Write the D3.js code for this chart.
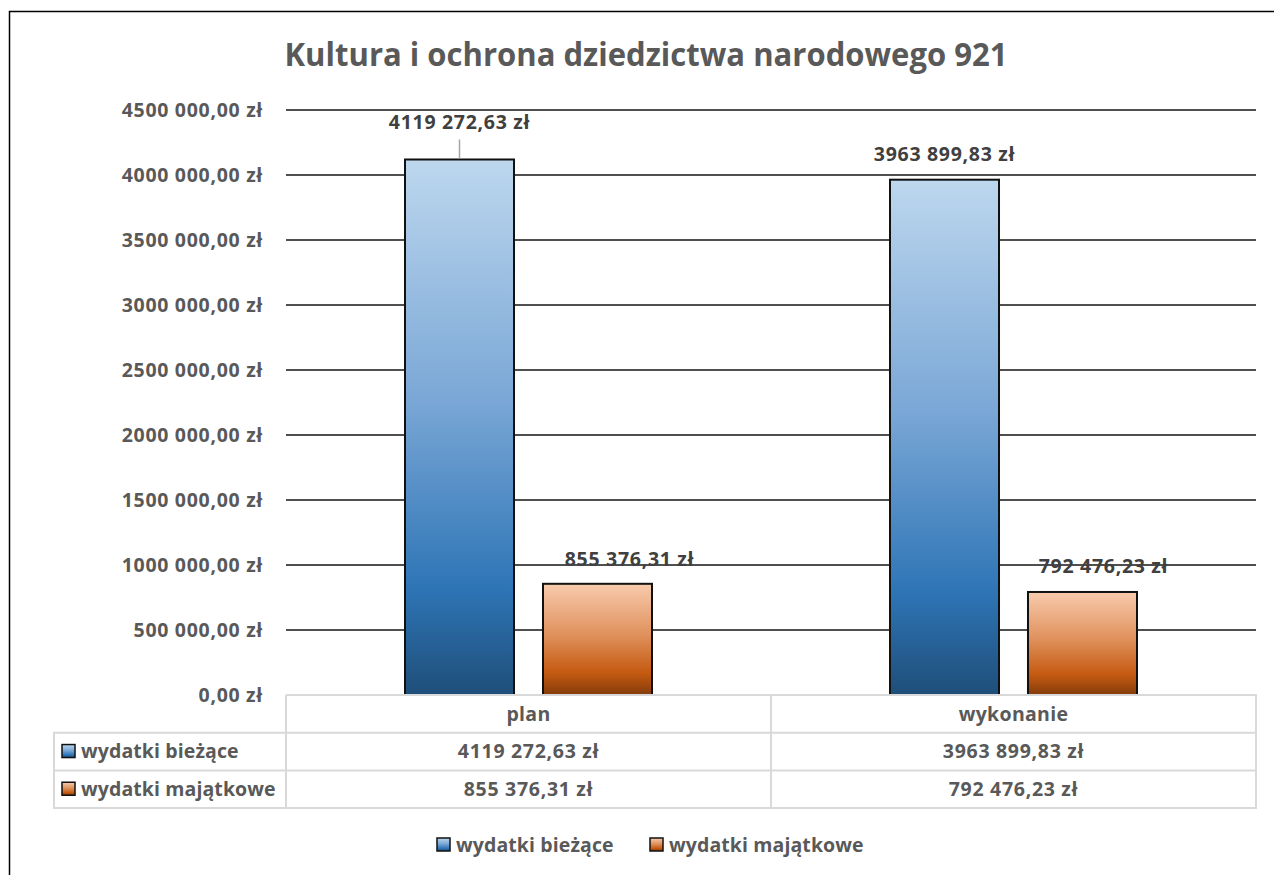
<!DOCTYPE html>
<html>
<head>
<meta charset="utf-8">
<script src="https://cdn.jsdelivr.net/npm/d3@7"></script>
<style>
  html, body { margin: 0; padding: 0; background: #fff; }
  svg { display: block; font-family: "Open Sans", "Noto Sans", sans-serif; }
</style>
</head>
<body>
<svg id="chart" width="1274" height="875"></svg>
<script>
// Budget chapter 921 — plan vs. execution
const title = "Kultura i ochrona dziedzictwa narodowego 921";
const categories = ["plan", "wykonanie"];
const seriesNames = ["wydatki bieżące", "wydatki majątkowe"];
const biezace = [4119272.63, 3963899.83];
const majatkowe = [855376.31, 792476.23];
const yTicks = [0, 500000, 1000000, 1500000, 2000000, 2500000, 3000000, 3500000, 4000000, 4500000];

const series = [
  { name: seriesNames[0], values: biezace, grad: "gBlue" },
  { name: seriesNames[1], values: majatkowe, grad: "gOrange" }
];

// Polish currency formatting: space thousands separator, comma decimal
const plFmt = d3.formatLocale({ decimal: ",", thousands: " ", grouping: [3], currency: ["", " zł"] });
const fmtNum = plFmt.format(",.2f");
const money = v => {
  // a leading single-digit group is joined with the next one (e.g. "4119 272,63")
  let s = fmtNum(v);
  const parts = s.split(" ");
  if (parts.length === 3 && parts[0].length === 1) s = parts[0] + parts[1] + " " + parts[2];
  return s + " zł";
};

const svg = d3.select("#chart");
const textColor = "#595959";
const fs = 19.5;       // base font size
const ls = 0.7;        // letter spacing for numbers

// gradients
const defs = svg.append("defs");
function grad(id, stops) {
  const g = defs.append("linearGradient").attr("id", id)
    .attr("x1", 0).attr("y1", 0).attr("x2", 0).attr("y2", 1);
  stops.forEach(([o, c]) => g.append("stop").attr("offset", o).attr("stop-color", c));
}
grad("gBlue", [[0, "#bdd7ee"], [0.45, "#7aa7d6"], [0.8, "#2e75b6"], [1, "#1f4e79"]]);
grad("gOrange", [[0, "#f8cbad"], [0.45, "#e0925e"], [0.8, "#c55a11"], [1, "#843c0c"]]);

// outer frame
svg.append("path").attr("d", "M9.5,876 V11.5 H1275")
  .attr("fill", "none").attr("stroke", "#000").attr("stroke-width", 1.5);

// title
svg.append("text").attr("x", 646).attr("y", 66).attr("text-anchor", "middle")
  .attr("font-size", 32).attr("font-weight", 700).attr("fill", textColor)
  .attr("textLength", 723).attr("lengthAdjust", "spacingAndGlyphs")
  .text(title);

const plot = { left: 286, right: 1256, top: 110, bottom: 695 };

const x0 = d3.scaleBand().domain(categories).range([plot.left, plot.right]);
const x1 = d3.scaleBand().domain(seriesNames).range([0, 247]).paddingInner(0.21);
const y = d3.scaleLinear().domain([0, 4500000]).range([plot.bottom, plot.top]);

// gridlines
svg.append("g").selectAll("line").data(yTicks.filter(t => t > 0)).join("line")
  .attr("x1", plot.left).attr("x2", plot.right)
  .attr("y1", d => y(d)).attr("y2", d => y(d))
  .attr("stroke", "#141414").attr("stroke-width", 1.7);

// y axis labels
const yAxis = d3.axisLeft(y).tickValues(yTicks).tickSize(0).tickPadding(0)
  .tickFormat(d => money(d));
const yg = svg.append("g").attr("transform", `translate(263,0)`).call(yAxis);
yg.select(".domain").remove();
yg.selectAll("text").attr("font-size", fs).attr("font-weight", 700)
  .attr("letter-spacing", ls)
  .attr("fill", textColor).attr("font-family", "'Open Sans', sans-serif")
  .attr("dy", "0.32em");

// bars
const groupOffset = (x0.bandwidth() - 247) / 2;
series.forEach(s => {
  svg.append("g").selectAll("rect").data(categories).join("rect")
    .attr("x", (c) => x0(c) + groupOffset + x1(s.name))
    .attr("y", (c, i) => y(s.values[i]))
    .attr("width", x1.bandwidth())
    .attr("height", (c, i) => y(0) - y(s.values[i]))
    .attr("fill", `url(#${s.grad})`)
    .attr("stroke", "#111").attr("stroke-width", 2);
});

// data labels
function label(xc, yc, txt) {
  svg.append("text").attr("x", xc).attr("y", yc).attr("text-anchor", "middle")
    .attr("font-size", fs).attr("font-weight", 700).attr("fill", "#404040")
    .attr("letter-spacing", ls)
    .text(txt);
}
categories.forEach((c, i) => {
  const bx = x0(c) + groupOffset + x1(seriesNames[0]) + x1.bandwidth() / 2;
  const ox = x0(c) + groupOffset + x1(seriesNames[1]) + x1.bandwidth() / 2;
  if (i === 0) {
    // label lifted above the bar with a leader line
    label(bx, y(biezace[i]) - 30, money(biezace[i]));
    svg.append("line").attr("x1", bx).attr("x2", bx)
      .attr("y1", y(biezace[i]) - 20).attr("y2", y(biezace[i]) - 1)
      .attr("stroke", "#a6a6a6").attr("stroke-width", 1.5);
    label(ox + 32, y(majatkowe[i]) - 18, money(majatkowe[i]));
  } else {
    label(bx, y(biezace[i]) - 19, money(biezace[i]));
    label(ox + 21, y(majatkowe[i]) - 19, money(majatkowe[i]));
  }
});

// data table
const rowH = 37.7;
const tableTop = plot.bottom;
const tableLeft = 54;
const gridColor = "#d9d9d9";
const tg = svg.append("g").attr("stroke", gridColor).attr("stroke-width", 2).attr("fill", "none");
tg.append("path").attr("d",
  `M${plot.left},${tableTop} H${plot.right} V${tableTop + 3 * rowH} H${tableLeft} V${tableTop + rowH} H${plot.right}
   M${tableLeft},${tableTop + 2 * rowH} H${plot.right}
   M${plot.left},${tableTop} V${tableTop + 3 * rowH}
   M${x0(categories[1])},${tableTop} V${tableTop + 3 * rowH}`);

categories.forEach(c => {
  svg.append("text").attr("x", x0(c) + x0.bandwidth() / 2).attr("y", tableTop + rowH / 2)
    .attr("dy", "0.35em").attr("text-anchor", "middle")
    .attr("font-size", fs).attr("font-weight", 700).attr("fill", textColor)
    .attr("letter-spacing", 0.3).text(c);
});

series.forEach((s, r) => {
  const cy = tableTop + (r + 1.5) * rowH;
  svg.append("rect").attr("x", 62).attr("y", cy - 7).attr("width", 13).attr("height", 13)
    .attr("fill", `url(#${s.grad})`).attr("stroke", "#111").attr("stroke-width", 1.5);
  svg.append("text").attr("x", 81).attr("y", cy).attr("dy", "0.35em")
    .attr("font-size", fs).attr("font-weight", 700).attr("fill", textColor)
    .attr("letter-spacing", 0.1).text(s.name);
  categories.forEach((c, i) => {
    svg.append("text").attr("x", x0(c) + x0.bandwidth() / 2).attr("y", cy)
      .attr("dy", "0.35em").attr("text-anchor", "middle")
      .attr("font-size", fs).attr("font-weight", 700).attr("fill", textColor)
      .attr("letter-spacing", ls)
      .text(money(s.values[i]));
  });
});

// legend
const legend = svg.append("g").attr("transform", "translate(0,845)");
const legendX = [437, 650];
series.forEach((s, i) => {
  legend.append("rect").attr("x", legendX[i]).attr("y", -7).attr("width", 13).attr("height", 13)
    .attr("fill", `url(#${s.grad})`).attr("stroke", "#111").attr("stroke-width", 1.5);
  legend.append("text").attr("x", legendX[i] + 19).attr("y", 0).attr("dy", "0.35em")
    .attr("font-size", fs).attr("font-weight", 700).attr("fill", textColor)
    .attr("letter-spacing", 0.1).text(s.name);
});
</script>
</body>
</html>
